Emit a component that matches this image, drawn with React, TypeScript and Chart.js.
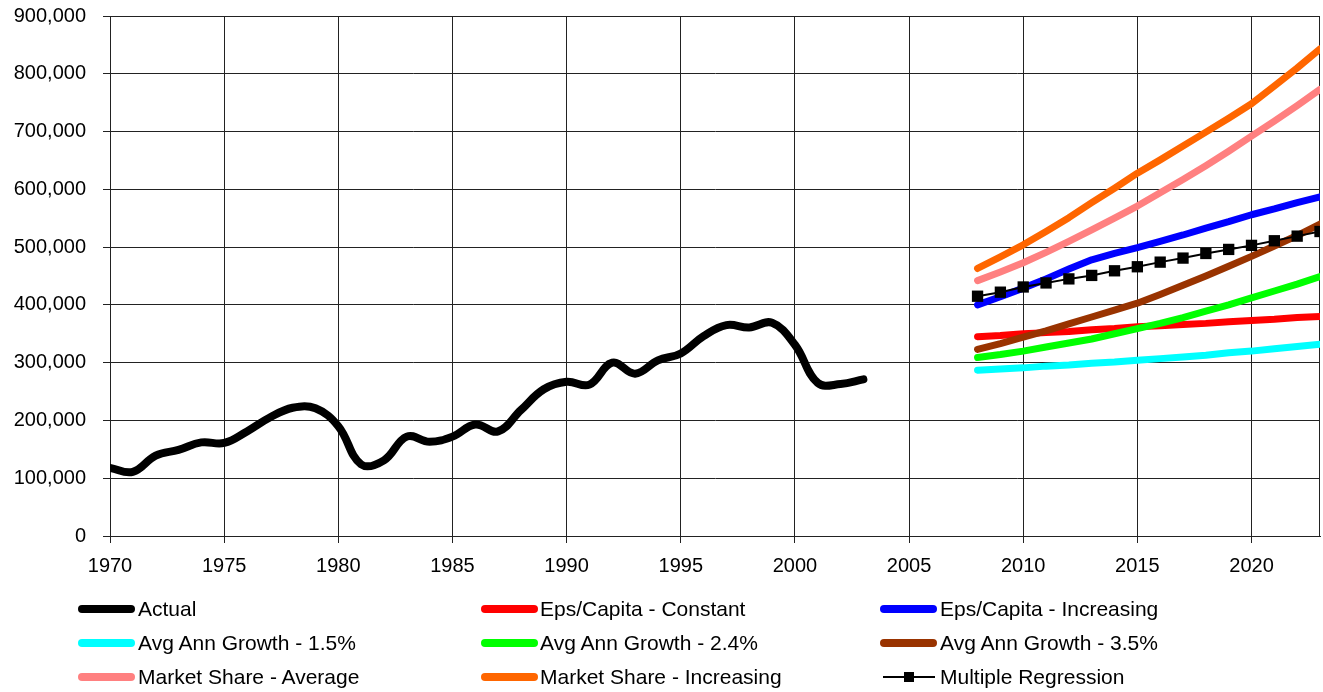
import React, { useEffect, useRef } from "react";
import { Chart, registerables } from "chart.js";

Chart.register(...registerables);

const actualYears = [
  1970, 1971, 1972, 1973, 1974, 1975, 1976, 1977, 1978, 1979,
  1980, 1981, 1982, 1983, 1984, 1985, 1986, 1987, 1988, 1989,
  1990, 1991, 1992, 1993, 1994, 1995, 1996, 1997, 1998, 1999,
  2000, 2001, 2002, 2003,
];
const actualValues = [
  118000, 111000, 139000, 149000, 162000, 161000, 181000, 205000, 222000, 221000,
  190000, 124000, 131000, 172000, 163000, 172000, 193000, 181000, 218000, 254000,
  267000, 262000, 300000, 281000, 304000, 316000, 346000, 365000, 361000, 369000,
  331000, 265000, 263000, 271000,
];

const forecastYears = [
  2008, 2009, 2010, 2011, 2012, 2013, 2014, 2015,
  2016, 2017, 2018, 2019, 2020, 2021, 2022, 2023,
];
const epsConstant = [
  345000, 347000, 350000, 352000, 354000, 357000, 359000, 362000,
  364000, 366000, 368000, 371000, 373000, 375000, 378000, 380000,
];
const epsIncreasing = [
  400000, 414000, 429000, 445000, 462000, 478000, 489000, 499000,
  510000, 521000, 533000, 544000, 556000, 566000, 577000, 587000,
];
const growth15 = [
  287000, 289000, 291000, 294000, 296000, 299000, 301000, 304000,
  307000, 310000, 313000, 317000, 320000, 324000, 328000, 332000,
];
const growth24 = [
  309000, 314000, 320000, 327000, 334000, 341000, 350000, 359000,
  368000, 378000, 389000, 400000, 412000, 424000, 436000, 449000,
];
const growth35 = [
  323000, 333000, 344000, 355000, 367000, 379000, 391000, 403000,
  418000, 434000, 450000, 467000, 484000, 502000, 520000, 540000,
];
const shareAverage = [
  442000, 457000, 473000, 491000, 510000, 530000, 550000, 571000,
  594000, 617000, 641000, 666000, 692000, 718000, 745000, 773000,
];
const shareIncreasing = [
  463000, 483000, 504000, 527000, 551000, 577000, 602000, 628000,
  651000, 675000, 699000, 723000, 748000, 779000, 810000, 843000,
];
const multipleRegression = [
  415000, 422000, 431000, 438000, 445000, 451000, 459000, 466000,
  474000, 481000, 489000, 496000, 503000, 511000, 519000, 527000,
];

const seriesLabels = [
  "Actual",
  "Eps/Capita - Constant",
  "Eps/Capita - Increasing",
  "Avg Ann Growth - 1.5%",
  "Avg Ann Growth - 2.4%",
  "Avg Ann Growth - 3.5%",
  "Market Share - Average",
  "Market Share - Increasing",
  "Multiple Regression",
];
const seriesColors = [
  "#000000",
  "#ff0000",
  "#0000ff",
  "#00ffff",
  "#00ff00",
  "#993300",
  "#ff8080",
  "#ff6600",
  "#000000",
];

const xMin = 1970;
const xMax = 2023;
const yMax = 900000;

const FONT = "'Liberation Sans', Arial, Helvetica, sans-serif";

const pts = (xs: number[], ys: number[]) => xs.map((x, i) => ({ x, y: ys[i] }));

const frame = {
  id: "plotFrame",
  beforeDatasetsDraw(chart: any) {
    const { ctx, chartArea } = chart;
    ctx.save();
    ctx.strokeStyle = "#222";
    ctx.lineWidth = 1;
    const l = Math.round(chartArea.left) + 0.5;
    const t = Math.round(chartArea.top) + 0.5;
    const r = Math.round(chartArea.right) - 0.5;
    const b = Math.round(chartArea.bottom) + 0.5;
    ctx.strokeRect(l, t, r - l, b - t);
    ctx.restore();
  },
};

const CANVAS_W = 1328;

export default function App() {
  const ref = useRef<HTMLCanvasElement | null>(null);

  useEffect(() => {
    if (!ref.current) return;
    const forecastSets = [
      epsConstant,
      epsIncreasing,
      growth15,
      growth24,
      growth35,
      shareAverage,
      shareIncreasing,
    ];
    const datasets: any[] = [];
    datasets.push({
      label: seriesLabels[0],
      data: pts(actualYears, actualValues),
      borderColor: seriesColors[0],
      borderWidth: 8,
      tension: 0.4,
      pointRadius: 0,
      borderCapStyle: "round",
      borderJoinStyle: "round",
      order: 100,
    });
    forecastSets.forEach((vals, i) => {
      datasets.push({
        label: seriesLabels[i + 1],
        data: pts(forecastYears, vals),
        borderColor: seriesColors[i + 1],
        borderWidth: 7,
        tension: 0,
        pointRadius: 0,
        borderCapStyle: "round",
        borderJoinStyle: "round",
        order: 99 - i,
      });
    });
    datasets.push({
      label: seriesLabels[8],
      data: pts(forecastYears, multipleRegression),
      borderColor: seriesColors[8],
      backgroundColor: seriesColors[8],
      borderWidth: 2,
      tension: 0,
      pointStyle: "rect",
      pointRadius: 8,
      pointBorderWidth: 0,
      order: 50,
    });

    const chart = new Chart(ref.current, {
      type: "line",
      data: { datasets },
      plugins: [frame],
      options: {
        animation: false,
        responsive: false,
        events: [],
        layout: { padding: { top: 16, right: 0, bottom: 116, left: 0 } },
        plugins: {
          legend: { display: false },
          tooltip: { enabled: false },
        },
        scales: {
          x: {
            type: "linear",
            min: xMin,
            max: xMax,
            afterFit: (s: any) => {
              s.height = 40;
              s.paddingLeft = 0;
              s.paddingRight = 0;
            },
            border: { color: "#222", width: 1 },
            grid: { color: "#222", lineWidth: 1, tickLength: 7, tickColor: "#222" },
            ticks: {
              stepSize: 5,
              includeBounds: false,
              padding: 11,
              color: "#000",
              font: { family: FONT, size: 20 },
              maxRotation: 0,
              callback: (v: any) => String(v),
            },
          },
          y: {
            type: "linear",
            min: 0,
            max: yMax,
            afterFit: (s: any) => {
              s.width = 110;
              s.paddingTop = 0;
              s.paddingBottom = 0;
            },
            border: { color: "#222", width: 1 },
            grid: { color: "#222", lineWidth: 1, tickLength: 7, tickColor: "#222" },
            ticks: {
              stepSize: 100000,
              padding: 17,
              color: "#000",
              font: { family: FONT, size: 20 },
              callback: (v: any) => Number(v).toLocaleString("en-US"),
            },
          },
        },
      },
    });
    return () => chart.destroy();
  }, []);

  const colX = [78, 481, 880];
  const textX = [138, 540, 940];
  const rowY = [609, 643, 677];

  return (
    <div style={{ position: "absolute", left: 0, top: 0, width: 1323, height: 692, background: "#fff", overflow: "hidden" }}>
      <canvas ref={ref} width={CANVAS_W} height={692} style={{ display: "block", width: CANVAS_W, height: 692 }} />
      {seriesLabels.map((label, i) => {
        const col = i % 3;
        const row = Math.floor(i / 3);
        const cy = rowY[row];
        const isReg = i === 8;
        return (
          <React.Fragment key={label}>
            {isReg ? (
              <>
                <div style={{ position: "absolute", left: colX[col] + 3, top: cy - 1, width: 52, height: 2, background: "#000" }} />
                <div style={{ position: "absolute", left: colX[col] + 24, top: cy - 5, width: 10, height: 10, background: "#000" }} />
              </>
            ) : (
              <div
                style={{
                  position: "absolute",
                  left: colX[col],
                  top: cy - 4,
                  width: 57,
                  height: 8,
                  borderRadius: 4,
                  background: seriesColors[i],
                }}
              />
            )}
            <div
              style={{
                position: "absolute",
                left: textX[col],
                top: cy - 12,
                height: 24,
                lineHeight: "24px",
                fontFamily: FONT,
                fontSize: 21,
                color: "#000",
                whiteSpace: "nowrap",
              }}
            >
              {label}
            </div>
          </React.Fragment>
        );
      })}
    </div>
  );
}
